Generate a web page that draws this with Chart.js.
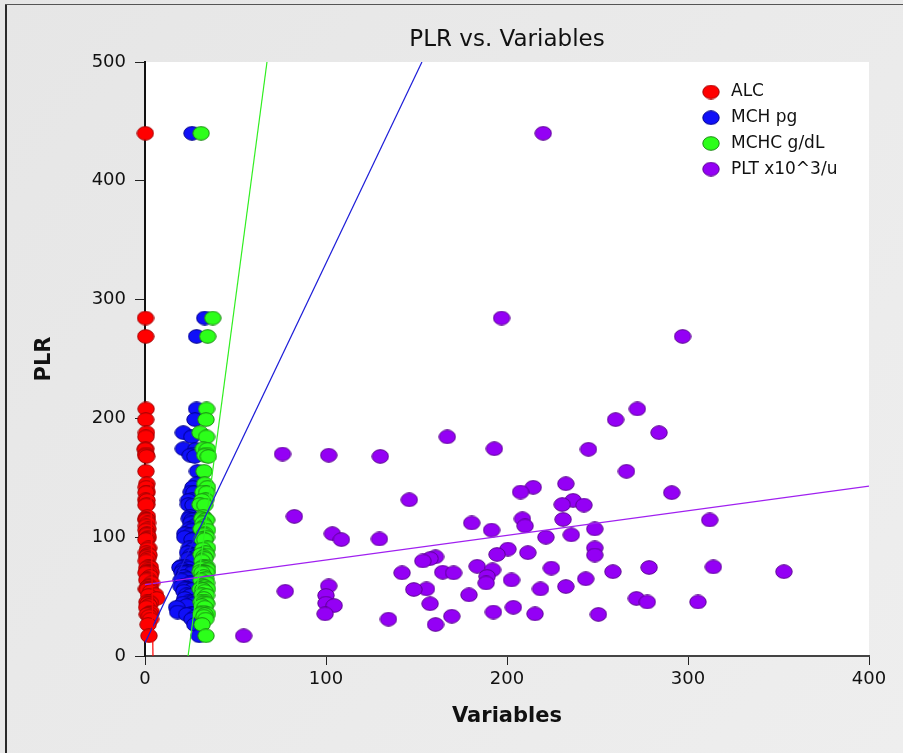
<!DOCTYPE html>
<html>
<head>
<meta charset="utf-8">
<title>PLR vs. Variables</title>
<script src="https://cdn.jsdelivr.net/npm/chart.js@4.4.1/dist/chart.umd.min.js"></script>
<style>
    html, body { margin: 0; padding: 0; background: #ebebeb; }
    #wrap { width: 903px; height: 753px; position: relative; }
</style>
</head>
<body>
<div id="wrap"><canvas id="plrChart" width="903" height="753"></canvas></div>
<script>
// PLR values (shared by all four variables, one per patient)
const plr = [440, 284.5, 269, 208, 199, 188, 184.5, 174.5, 174, 170,
    169, 168, 155.5, 145, 142, 138, 137.5, 131.5, 131, 127.5,
    127, 117.5, 115.5, 115, 114.5, 112, 109.5, 107, 106, 103,
    102, 100, 98.5, 98, 91, 90, 87, 85.5, 85, 83.5,
    82, 80, 75.5, 75, 74.5, 74, 72.5, 71, 71, 70.5,
    70, 70, 67, 65, 64, 61.5, 59, 58.5, 56.5, 56.5,
    56, 54.5, 51.5, 51, 48.5, 45.5, 45.5, 44.5, 44, 42.5,
    41, 37, 35.5, 35.5, 35, 33.5, 31, 26.5, 17];

const alcX = [0.2, 0.3, 0.4, 0.6, 0.4, 0.8, 0.5, 0.3, 0.2, 0.6,
    0.4, 0.9, 0.5, 1.0, 0.7, 1.2, 0.6, 0.4, 1.1, 0.9,
    0.6, 1.3, 0.5, 1.0, 0.8, 1.4, 0.7, 1.6, 0.6, 1.1,
    0.9, 1.8, 1.2, 0.5, 2.0, 1.4, 0.8, 1.6, 2.2, 1.0,
    1.5, 0.7, 2.4, 1.9, 3.0, 0.9, 1.7, 2.6, 1.2, 3.4,
    2.1, 0.6, 2.8, 1.5, 1.0, 3.6, 2.3, 1.8, 0.8, 2.9,
    1.3, 3.2, 5.8, 2.0, 6.5, 1.1, 2.5, 3.0, 1.6, 2.2,
    0.9, 3.5, 1.9, 2.7, 1.3, 2.4, 3.1, 1.7, 2.2];

const mchX = [26, 33, 28.5, 28.5, 27.6, 21.2, 25.8, 21.2, 28, 26.7,
    25, 27.5, 29, 28.5, 26.5, 25.5, 27, 26, 24, 24,
    26.5, 25, 24.5, 27, 26, 25.5, 27.5, 24.5, 26, 22,
    25, 22, 27, 26, 24.5, 26.5, 23.5, 27, 25.5, 28,
    24, 26.5, 20, 22.5, 19.3, 24, 21, 23, 25, 20.5,
    22, 26, 21.5, 23.5, 20, 25, 21, 20, 24, 22,
    26, 21.5, 23, 25, 22, 24, 26.5, 21, 27, 23,
    17.5, 18, 25.5, 27, 23, 28, 26, 27.5, 30];

const mchcX = [31, 37.4, 34.6, 34, 33.7, 30.4, 34, 32.2, 34.5, 34,
    33, 35, 32.6, 33, 34.5, 32, 34, 33.5, 31.5, 30.4,
    33, 32.2, 31.5, 33.5, 34, 32, 33, 31, 34.5, 33,
    32.5, 34, 31.5, 33, 34.5, 32, 33.5, 31, 34, 32.5,
    33, 31.5, 34, 32, 33.5, 31, 34.5, 32.5, 30.5, 33,
    34, 31.5, 32.5, 33.5, 31, 34, 32, 33, 30.5, 34.5,
    32, 33, 31.5, 34, 32.5, 31, 33.5, 32, 34, 31.5,
    33, 32, 34.5, 31, 33, 32.5, 33.5, 31.5, 33.7];

const pltX = [220, 197, 297, 272, 260, 284, 167, 193, 245, 76,
    101.5, 130, 266, 232.5, 214.5, 207.5, 291, 146, 236.5, 230.5,
    242.5, 82.5, 208.5, 231, 312, 180.5, 210, 248.5, 191.5, 103.5,
    235.5, 221.5, 129.5, 108.5, 248.5, 200.5, 211.5, 194.5, 248.5, 160.5,
    157.5, 153.5, 183.5, 314, 278.5, 224.5, 192, 258.5, 353, 164.5,
    170.5, 142, 189, 243.5, 202.5, 188.5, 101.5, 232.5, 155.5, 218.5,
    148.5, 77.5, 179, 100, 271.5, 277.5, 305.5, 100, 157.5, 104.5,
    203.5, 192.5, 99.5, 215.5, 250.5, 169.5, 134.5, 160.5, 54.5];

// fitted line end points (ALC fit only shows below its points)
const alcFit = [{ x: 4.4, y: 0 }, { x: 3.2, y: 150 }];
const mchFit = [{ x: 0, y: 11 }, { x: 153, y: 500 }];
const mchcFit = [{ x: 23.8, y: 0 }, { x: 67.4, y: 500 }];
const pltFit = [{ x: 0, y: 60 }, { x: 400, y: 143 }];

const seriesNames = ['ALC', 'MCH pg', 'MCHC g/dL', 'PLT x10^3/u'];
const xTicks = [0, 100, 200, 300, 400];
const yTicks = [0, 100, 200, 300, 400, 500];

const fills = ['#ff0000', '#1010f8', '#2cff1a', '#9400f5'];
const edges = ['#a00000', '#00008a', '#1a8a12', '#5a0090'];
const lineColors = ['#ff0000', '#1c1cd8', '#30ee20', '#a020f0'];

const FONT = '"DejaVu Sans", "Liberation Sans", sans-serif';

function ellipseMarker(fill, edge) {
    const c = document.createElement('canvas');
    c.width = 18;
    c.height = 15;
    const g = c.getContext('2d');
    g.beginPath();
    g.ellipse(9, 7.5, 8.2, 6.8, 0, 0, Math.PI * 2);
    g.fillStyle = fill;
    g.fill();
    g.lineWidth = 1;
    g.strokeStyle = edge;
    g.stroke();
    return c;
}

const markers = fills.map((f, i) => ellipseMarker(f, edges[i]));
const toPoints = (xs) => xs.map((x, i) => ({ x: x, y: plr[i] }));

const scatterSets = [alcX, mchX, mchcX, pltX].map((xs, i) => ({
    type: 'scatter',
    label: seriesNames[i],
    data: toPoints(xs),
    pointStyle: markers[i],
    pointRadius: 8,
    backgroundColor: fills[i],
    borderColor: edges[i],
    clip: false,
    order: 5 - i
}));

const fitSets = [alcFit, mchFit, mchcFit, pltFit].map((pts, i) => ({
    type: 'line',
    label: seriesNames[i] + ' fit',
    data: pts,
    borderColor: lineColors[i],
    borderWidth: 1.2,
    pointRadius: 0,
    fill: false,
    order: 0
}));

// grey page + white plot area + frame
const backdrop = {
    id: 'backdrop',
    beforeDraw(chart) {
        const { ctx, chartArea: a, width, height } = chart;
        ctx.save();
        const grad = ctx.createLinearGradient(0, 0, width, height);
        grad.addColorStop(0, '#e6e6e6');
        grad.addColorStop(1, '#eeeeee');
        ctx.fillStyle = grad;
        ctx.fillRect(0, 0, width, height);
        ctx.fillStyle = '#ffffff';
        ctx.fillRect(a.left, a.top, a.right - a.left, a.bottom - a.top);
        ctx.fillStyle = '#2a2a2a';
        ctx.fillRect(5, 4, 2, height - 4);
        ctx.fillStyle = '#555555';
        ctx.fillRect(5, 4, width - 5, 1);
        ctx.restore();
    }
};

// legend inside the plot, top right
const plotLegend = {
    id: 'plotLegend',
    afterDatasetsDraw(chart) {
        const { ctx } = chart;
        ctx.save();
        ctx.font = '17px ' + FONT;
        ctx.fillStyle = '#111';
        ctx.textBaseline = 'middle';
        seriesNames.forEach((name, i) => {
            const y = 92 + i * 25.7;
            ctx.drawImage(markers[i], 711 - 9, y - 7.5);
            ctx.fillText(name, 731, y);
        });
        ctx.restore();
    }
};

new Chart(document.getElementById('plrChart'), {
    data: { datasets: scatterSets.concat(fitSets) },
    options: {
        responsive: false,
        animation: false,
        events: [],
        layout: { padding: { left: 20, right: 34, top: 0, bottom: 0 } },
        plugins: {
            legend: { display: false },
            tooltip: { enabled: false },
            title: {
                display: true,
                text: 'PLR vs. Variables',
                fullSize: false,
                color: '#111',
                font: { family: FONT, size: 23, weight: 'normal', lineHeight: 1 },
                padding: { top: 29, bottom: 10 }
            }
        },
        scales: {
            x: {
                type: 'linear',
                min: 0,
                max: 400,
                afterFit: (s) => { s.height = 97; },
                afterBuildTicks: (s) => { s.ticks = xTicks.map(v => ({ value: v })); },
                border: { display: true, color: '#444', width: 2 },
                grid: { drawOnChartArea: false, drawTicks: true, tickLength: 9, color: '#222', tickWidth: 1 },
                ticks: {
                    color: '#111',
                    padding: 4,
                    font: { family: FONT, size: 18 }
                },
                title: {
                    display: true,
                    text: 'Variables',
                    color: '#111',
                    font: { family: FONT, size: 21, weight: 'bold' },
                    padding: { top: 0, bottom: 24 }
                }
            },
            y: {
                type: 'linear',
                min: 0,
                max: 500,
                afterFit: (s) => { s.width = 125; },
                afterBuildTicks: (s) => { s.ticks = yTicks.map(v => ({ value: v })); },
                border: { display: true, color: '#111', width: 2 },
                grid: { drawOnChartArea: false, drawTicks: true, tickLength: 10, color: '#222', tickWidth: 1 },
                ticks: {
                    color: '#111',
                    padding: 9,
                    font: { family: FONT, size: 18 }
                },
                title: {
                    display: true,
                    text: 'PLR',
                    color: '#111',
                    font: { family: FONT, size: 21, weight: 'bold' },
                    padding: { top: 12, bottom: 0 }
                }
            }
        }
    },
    plugins: [backdrop, plotLegend]
});
</script>
</body>
</html>
